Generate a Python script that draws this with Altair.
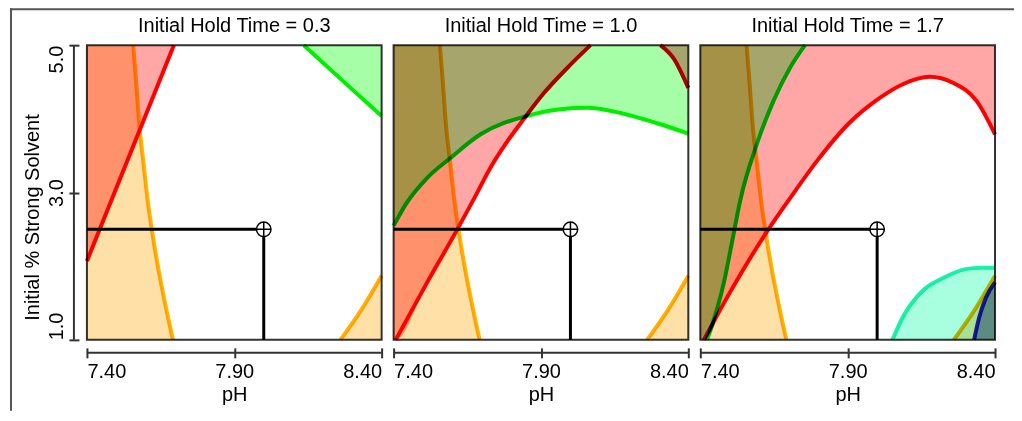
import altair as alt
import pandas as pd

# ---------------- data ----------------
HOLD_TIMES = ["0.3", "1.0", "1.7"]
X_TICKS = [7.4, 7.9, 8.4]
Y_TICKS = [1.0, 3.0, 5.0]
X_MIN, X_MAX = 7.4, 8.4
Y_MIN, Y_MAX = 1.0, 5.0
SET_PH = 8.0
SET_SOLVENT = 2.5

# orange constraint (same in every panel), shaded below the curve
ORANGE_L_PH = [7.557, 7.567, 7.578, 7.592, 7.606, 7.622, 7.643, 7.665, 7.692]
ORANGE_L_Y = [5.0, 4.5, 3.9, 3.4, 2.9, 2.45, 1.95, 1.5, 1.0]
ORANGE_R_PH = [8.26, 8.33, 8.4]
ORANGE_R_Y = [1.0, 1.40, 1.87]

# panel 1 (hold time 0.3)
RED1_PH = [7.4, 7.55, 7.695]
RED1_Y = [2.07, 3.56, 5.0]
GREEN1_PH = [8.136, 8.30, 8.4]
GREEN1_Y = [5.0, 4.40, 4.04]

# panel 2 (hold time 1.0)
RED2A_PH = [7.407, 7.511, 7.616, 7.672, 7.729, 7.785, 7.842, 7.91, 7.989, 8.068]
RED2A_Y = [1.0, 1.76, 2.5, 2.91, 3.34, 3.69, 4.0, 4.35, 4.69, 5.0]
RED2B_PH = [8.305, 8.35, 8.4]
RED2B_Y = [5.0, 4.82, 4.42]
GREEN2_PH = [7.4, 7.441, 7.514, 7.593, 7.695, 7.853, 7.966, 8.057, 8.17, 8.294, 8.4]
GREEN2_Y = [2.55, 2.84, 3.20, 3.47, 3.79, 4.04, 4.13, 4.15, 4.08, 3.94, 3.80]

# panel 3 (hold time 1.7)
RED3_PH = [7.412, 7.49, 7.631, 7.704, 7.80, 7.907, 7.997, 8.087, 8.178, 8.257, 8.338, 8.4]
RED3_Y = [1.0, 1.57, 2.5, 2.92, 3.45, 3.95, 4.25, 4.47, 4.57, 4.49, 4.24, 3.79]
GREEN3_PH = [7.423, 7.479, 7.513, 7.535, 7.592, 7.648, 7.704, 7.755]
GREEN3_Y = [1.0, 1.76, 2.44, 2.885, 3.66, 4.24, 4.69, 5.0]
AQUA3_PH = [8.052, 8.086, 8.143, 8.234, 8.30, 8.35, 8.4]
AQUA3_Y = [1.0, 1.30, 1.62, 1.86, 1.96, 1.98, 1.98]
NAVY3_PH = [8.329, 8.346, 8.369, 8.4]
NAVY3_Y = [1.0, 1.30, 1.57, 1.78]

FILL_NAMES = ["peach", "pink", "green", "aqua", "navy"]
FILL_COLORS = ["#FFE1A8", "#FFA6A6", "#A6FFA6", "#A8FFE0", "#8C9EE0"]
LINE_NAMES = ["orange", "red", "green", "aqua", "navy"]
LINE_COLORS = ["#FFB400", "#FF0000", "#00EE00", "#1EF0B0", "#2020FF"]

# ---------------- layout ----------------
W = 295
H = 295
FONT = "Liberation Sans"
GREY = "#333333"

XSCALE = alt.Scale(domain=[X_MIN, X_MAX], nice=False, zero=False)
YSCALE = alt.Scale(domain=[Y_MIN, Y_MAX], nice=False, zero=False)

X_AXIS = alt.Axis(values=X_TICKS, format=".2f", title="pH", labelFlush=True,
                  offset=8, tickSize=10, labelPadding=4, titlePadding=3)
Y_AXIS = alt.Axis(values=Y_TICKS, format=".1f", title="Initial % Strong Solvent",
                  offset=8, tickSize=10, labelAngle=270, labelBaseline="bottom",
                  labelAlign=alt.ExprRef(expr="datum.value >= 5 ? 'right' : (datum.value <= 1 ? 'left' : 'center')"),
                  labelPadding=2, titlePadding=4, titleY=172)


def band(ph, yv, kind, full, region, seg):
    rows = []
    if full:
        rows.append({"ph": X_MIN, "lo": Y_MIN, "hi": Y_MAX, "region": region, "seg": seg})
    for a, b in zip(ph, yv):
        if kind == "above":
            rows.append({"ph": a, "lo": b, "hi": Y_MAX, "region": region, "seg": seg})
        else:
            rows.append({"ph": a, "lo": Y_MIN, "hi": b, "region": region, "seg": seg})
    return rows


ORANGE_FILLS = [("peach", "pL", ORANGE_L_PH, ORANGE_L_Y, "below", True),
                ("peach", "pR", ORANGE_R_PH, ORANGE_R_Y, "below", False)]
ORANGE_LINES = [("orange", "oL", ORANGE_L_PH, ORANGE_L_Y),
                ("orange", "oR", ORANGE_R_PH, ORANGE_R_Y)]

PANELS = [
    dict(fills=ORANGE_FILLS + [("pink", "r", RED1_PH, RED1_Y, "above", False),
                               ("green", "g", GREEN1_PH, GREEN1_Y, "above", False)],
         lines=ORANGE_LINES + [("red", "r", RED1_PH, RED1_Y),
                               ("green", "g", GREEN1_PH, GREEN1_Y)]),
    dict(fills=ORANGE_FILLS + [("pink", "rA", RED2A_PH, RED2A_Y, "above", True),
                               ("pink", "rB", RED2B_PH, RED2B_Y, "above", False),
                               ("green", "g", GREEN2_PH, GREEN2_Y, "above", False)],
         lines=ORANGE_LINES + [("red", "rA", RED2A_PH, RED2A_Y),
                               ("red", "rB", RED2B_PH, RED2B_Y),
                               ("green", "g", GREEN2_PH, GREEN2_Y)]),
    dict(fills=ORANGE_FILLS + [("pink", "r", RED3_PH, RED3_Y, "above", True),
                               ("green", "g", GREEN3_PH, GREEN3_Y, "above", True),
                               ("aqua", "a", AQUA3_PH, AQUA3_Y, "below", False),
                               ("navy", "n", NAVY3_PH, NAVY3_Y, "below", False)],
         lines=ORANGE_LINES + [("red", "r", RED3_PH, RED3_Y),
                               ("green", "g", GREEN3_PH, GREEN3_Y),
                               ("aqua", "a", AQUA3_PH, AQUA3_Y),
                               ("navy", "n", NAVY3_PH, NAVY3_Y)]),
]

cross_df = pd.DataFrame({"ph0": [X_MIN, SET_PH], "ph1": [SET_PH, SET_PH],
                         "y0": [SET_SOLVENT, Y_MIN], "y1": [SET_SOLVENT, SET_SOLVENT]})
pt_df = pd.DataFrame({"ph": [SET_PH], "y": [SET_SOLVENT]})
one_df = pd.DataFrame({"k": [0]})


def panel(k, spec):
    yaxis = Y_AXIS if k == 0 else None
    fill_rows = []
    for region, seg, ph, yv, kind, full in spec["fills"]:
        fill_rows += band(ph, yv, kind, full, region, seg)
    line_rows = []
    for curve, seg, ph, yv in spec["lines"]:
        for i, (a, b) in enumerate(zip(ph, yv)):
            line_rows.append({"ph": a, "y": b, "curve": curve, "seg": seg, "idx": i})
    fill_df = pd.DataFrame(fill_rows)
    line_df = pd.DataFrame(line_rows)

    def X(f):
        return alt.X(f, type="quantitative", scale=XSCALE, axis=X_AXIS)

    def Y(f):
        return alt.Y(f, type="quantitative", scale=YSCALE, axis=yaxis)

    areas = alt.Chart(fill_df).mark_area(blend="multiply", orient="vertical", opacity=1,
                                         interpolate="monotone").encode(
        x=X("ph"), y=Y("lo"), y2="hi",
        fill=alt.Fill("region:N", scale=alt.Scale(domain=FILL_NAMES, range=FILL_COLORS), legend=None),
        detail="seg:N")
    curves = alt.Chart(line_df).mark_line(blend="multiply", strokeWidth=4,
                                          interpolate="monotone").encode(
        x=X("ph"), y=Y("y"),
        stroke=alt.Stroke("curve:N", scale=alt.Scale(domain=LINE_NAMES, range=LINE_COLORS), legend=None),
        detail="seg:N", order="idx:Q")
    cross = alt.Chart(cross_df).mark_rule(color="black", strokeWidth=3).encode(
        x=X("ph0"), x2="ph1", y=Y("y0"), y2="y1")
    ring = alt.Chart(pt_df).mark_point(shape="circle", size=210, filled=True, fill="white",
                                       stroke="black", strokeWidth=1.5, opacity=1).encode(
        x=X("ph"), y=Y("y"))
    plus = alt.Chart(pt_df).mark_point(shape="M-1,0L1,0M0,-1L0,1", size=210, filled=False,
                                       stroke="black", strokeWidth=1.5, opacity=1).encode(
        x=X("ph"), y=Y("y"))
    xline = alt.Chart(one_df).mark_rule(color=GREY, strokeWidth=2).encode(
        x=alt.value(0), x2=alt.value(W), y=alt.value(H + 13))
    layers = [areas, curves, cross, ring, plus, xline]
    if k == 0:
        yline = alt.Chart(one_df).mark_rule(color=GREY, strokeWidth=2).encode(
            x=alt.value(-13), y=alt.value(0), y2=alt.value(H))
        layers.append(yline)
    return alt.layer(*layers).properties(
        width=W, height=H,
        title=alt.TitleParams("Initial Hold Time = " + HOLD_TIMES[k]))


frame = alt.layer(
    alt.Chart(one_df).mark_rect(color="#555555").encode(
        x=alt.value(-64), x2=alt.value(941), y=alt.value(-37), y2=alt.value(-35)),
    alt.Chart(one_df).mark_rect(color="#555555").encode(
        x=alt.value(-64), x2=alt.value(-62), y=alt.value(-37), y2=alt.value(366)),
).properties(width=1, height=H, view=alt.ViewBackground(strokeOpacity=0))

chart = alt.hconcat(frame, *[panel(k, s) for k, s in enumerate(PANELS)],
                    spacing=12, bounds="flush").properties(
    padding={"left": 2, "top": 0, "right": 0, "bottom": 0}
).configure_view(
    stroke=GREY, strokeWidth=2
).configure_axis(
    labelFont=FONT, labelFontSize=20, labelColor="black",
    titleFont=FONT, titleFontSize=20, titleFontWeight="normal", titleColor="black",
    grid=False, domain=False, tickColor=GREY, tickWidth=2
).configure_title(
    font=FONT, fontSize=20, fontWeight="normal", color="black",
    offset=1, frame="group", anchor="middle"
)

chart.save("out.html", embed_options={"renderer": "svg", "actions": False})
